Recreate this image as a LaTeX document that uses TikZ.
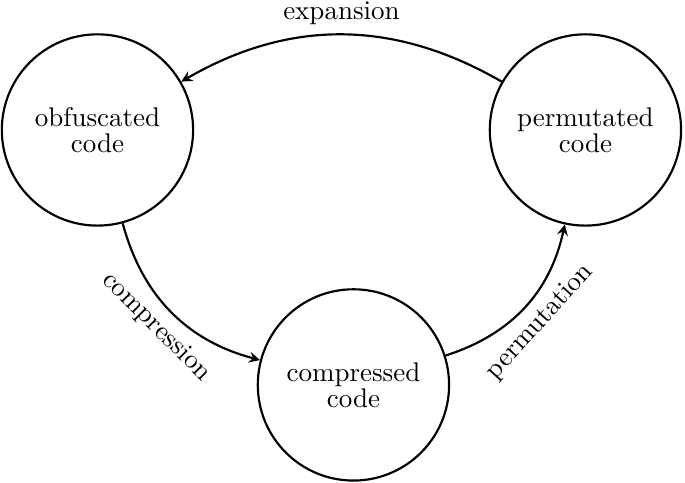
\documentclass[tikz,border=0pt]{standalone}
\usepackage{amsmath}
\usepackage{tikz}
\usetikzlibrary{arrows,positioning}
\tikzset{node distance=6.352cm, auto}
\tikzset{state/.style={circle, draw, thick, minimum size=2.49cm, inner sep=0pt,
    align=center, font=\fontsize{10}{9.6}\selectfont}}

\begin{document}
\begin{tikzpicture}
				\useasboundingbox (-1.269,1.692) rectangle (7.648,-4.595);
				\node[state] (O) 	at (0,0)			{obfuscated\\code};
				\node[state] (P) 	[right of=O]		{permutated\\code};
				\node[state] (C) 	at (3.332,-3.319)	{compressed\\code};
				\draw[-stealth, thick]	(O)	to[bend right] node[sloped, below] {compression} 	(C);
				\draw[-stealth, thick]	(C)	to[bend right] node[sloped, below] {permutation} 	(P);
				\draw[-stealth, thick]	(P)	to[bend right] node[above] {expansion} 			(O);
			\end{tikzpicture}
\end{document}
